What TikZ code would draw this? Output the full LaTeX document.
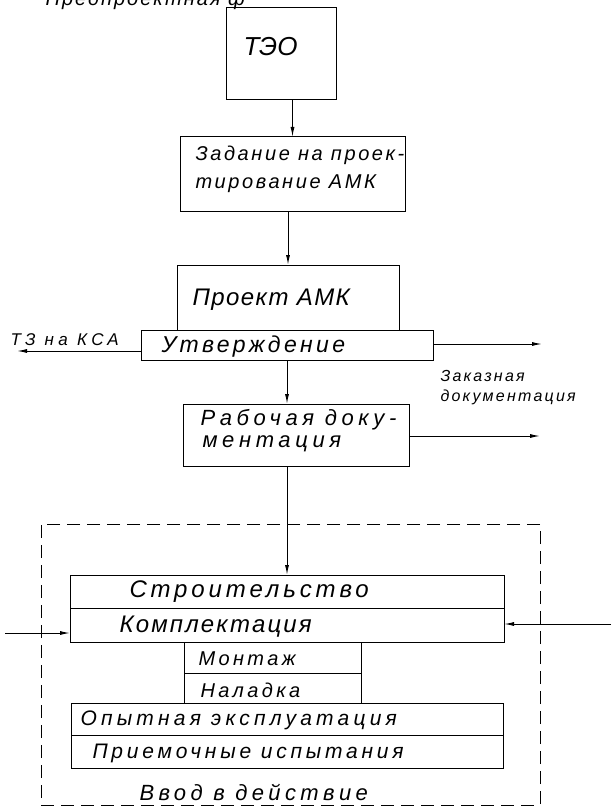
\documentclass[tikz,border=0pt]{standalone}
\usepackage{fontspec}
\usetikzlibrary{arrows.meta}
\newfontfamily\hand{Liberation Sans}
\begin{document}
\begin{tikzpicture}[x=1pt,y=-1pt,line width=1pt,
  box/.style={draw,anchor=north west,inner sep=0pt,outer sep=0pt},
  frm/.style={box,dash pattern=on 13pt off 7pt},
  arr/.style={-{Latex[length=10pt,width=4pt]}},
  lbl/.style={anchor=west,inner sep=0pt},
  t/.style 2 args={font=\hand\itshape\fontsize{#1}{#1}\selectfont\addfontfeature{LetterSpace=#2}}]
\useasboundingbox (0,0) rectangle (611,810);
\clip (0,0) rectangle (611,810);
\fill[white] (0,0) rectangle (611,810);

% partially visible heading
\node[inner sep=0pt,anchor=base west,t={20}{10}] (pre) at (45,6) {Предпроектная ф};

% boxes
\node[box,minimum width=110,minimum height=92] (teo) at (226,8) {};
\node[box,minimum width=225,minimum height=75] (zad) at (180,137) {};
\node[box,minimum width=222,minimum height=65] (proj) at (177,265) {};
\node[box,minimum width=292,minimum height=30] (utv) at (141,330) {};
\node[box,minimum width=226,minimum height=62] (rab) at (183,404) {};
\node[frm,minimum width=499,minimum height=281] (frame) at (41,524) {};
\node[box,minimum width=434,minimum height=67] (str) at (70,575) {};
\node[box,minimum width=177,minimum height=61] (mon) at (184,642) {};
\node[box,minimum width=432,minimum height=65] (op) at (71,703) {};

% dividing lines
\draw (str.west |- 0,608) -- (str.east |- 0,608);
\draw (mon.west |- 0,673) -- (mon.east |- 0,673);
\draw (op.west |- 0,735) -- (op.east |- 0,735);

% texts
\node[lbl,t={26}{0}] (tTeo) at (243,47) {ТЭО};
\node[lbl,t={20}{13}] (tZad1) at (195,155) {Задание на проек-};
\node[lbl,t={20}{13}] (tZad2) at (195,184) {тирование АМК};
\node[lbl,t={24}{6}] (tProj) at (192,300) {Проект АМК};
\node[lbl,t={23}{14.5}] (tUtv) at (161,347) {Утверждение};
\node[lbl,t={17}{26}] (tTz) at (10,340) {ТЗ на КСА};
\node[lbl,t={16}{14}] (tZak1) at (440,376) {Заказная};
\node[lbl,t={16}{14}] (tZak2) at (440,397) {документация};
\node[lbl,t={22}{21}] (tRab1) at (200,420) {Рабочая доку-};
\node[lbl,t={22}{21}] (tRab2) at (202,444) {ментация};
\node[lbl,t={24}{16}] (tStr) at (129,592) {Строительство};
\node[lbl,t={24}{9}] (tKom) at (119,627) {Комплектация};
\node[lbl,t={20}{17}] (tMon) at (198,659) {Монтаж};
\node[lbl,t={20}{17}] (tNal) at (200,690) {Наладка};
\node[lbl,t={21}{20}] (tOp) at (80,720) {Опытная эксплуатация};
\node[lbl,t={21}{18}] (tPr) at (92,753) {Приемочные испытания};
\node[lbl,t={22}{20}] (tVv) at (139,792) {Ввод в действие};

% vertical connectors
\draw[arr] (zad.north |- teo.south) -- (zad.north);
\draw[arr] (proj.north |- zad.south) -- (proj.north);
\draw[arr] (utv.south) -- (utv.south |- rab.north);
\draw[arr] (str.north |- rab.south) -- (str.north);

% side connectors
\coordinate (tzEnd) at (17,351);
\coordinate (zakEnd) at (542,344);
\coordinate (rabEnd) at (540,436);
\coordinate (kL) at (5,633);
\coordinate (kR) at (611,624);
\draw[arr] (utv.west |- tzEnd) -- (tzEnd);
\draw[arr] (utv.east |- zakEnd) -- (zakEnd);
\draw[arr] (rab.east |- rabEnd) -- (rabEnd);
\draw[arr] (kL) -- (str.west |- kL);
\draw[arr] (kR) -- (str.east |- kR);
\end{tikzpicture}
\end{document}
